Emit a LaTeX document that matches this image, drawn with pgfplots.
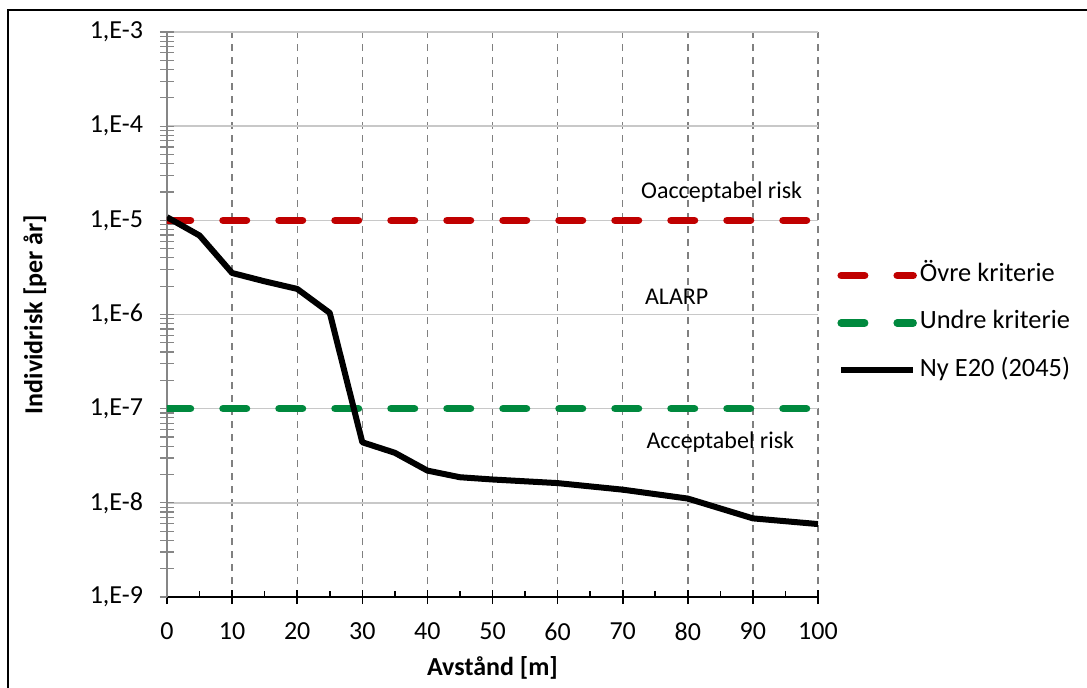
\documentclass[border=0pt]{standalone}
\usepackage{fontspec}
\setmainfont{Carlito}
\usepackage{pgfplots}
\usepackage{pgfplotstable}
\pgfplotsset{compat=1.18}
\definecolor{ovre}{RGB}{192,0,0}
\definecolor{undre}{RGB}{0,137,62}
\definecolor{gridx}{RGB}{128,128,128}
\definecolor{gridy}{RGB}{200,200,200}
\definecolor{yaxis}{RGB}{134,134,134}

% Ny E20 (2045), individrisk per år
\pgfplotstableread{
x    y
0    1.08e-5
5    6.9e-6
10   2.76e-6
15   2.25e-6
20   1.87e-6
25   1.04e-6
30   4.4e-8
35   3.4e-8
40   2.2e-8
45   1.87e-8
50   1.77e-8
60   1.62e-8
70   1.38e-8
80   1.11e-8
90   6.84e-9
100  5.95e-9
}\nyetable

\begin{document}
\begin{tikzpicture}
\useasboundingbox (0,0) rectangle (543.5pt,344pt);
\draw[line width=1pt] (4pt,-10pt) -- (4pt,339pt) -- (560pt,339pt);
\begin{axis}[
  at={(83.5pt,45.5pt)}, anchor=south west,
  scale only axis,
  width=325.5pt, height=282.5pt,
  xmin=0, xmax=100,
  ymode=log, ymin=1e-9, ymax=1e-3,
  xtick={0,10,...,100},
  ytick={1e-9,1e-8,1e-7,1e-6,1e-5,1e-4,1e-3},
  yticklabels={{1,E-9},{1,E-8},{1,E-7},{1,E-6},{1,E-5},{1,E-4},{1,E-3}},
  /pgf/number format/assume math mode=true,
  tick label style={font=\fontsize{13}{15}\selectfont, text=black},
  xticklabel style={yshift=-6pt},
  yticklabel style={xshift=-5pt},
  axis x line*=bottom, axis y line*=left,
  x axis line style={-, black, line width=0.8pt},
  y axis line style={-, yaxis, line width=0.8pt},
  tick align=center,
  major tick length=7pt, minor tick length=6.5pt,
  x tick style={black, line width=0.8pt},
  y tick style={yaxis, line width=0.6pt},
  extra x ticks={5,15,...,95},
  extra x tick labels={},
  extra x tick style={major tick length=3pt, tick align=inside, grid=none},
  xmajorgrids, ymajorgrids,
  x grid style={gridx, line width=0.7pt, dash pattern=on 3.5pt off 3pt},
  y grid style={gridy, line width=0.8pt},
  xlabel={Avstånd [m]},
  ylabel={Individrisk [per år]},
  label style={font=\bfseries\fontsize{13}{15}\selectfont},
  xlabel style={at={(axis description cs:0.5,-0.1257)}, anchor=center},
  ylabel style={at={(axis description cs:-0.2028,0.5)}, anchor=center},
  legend style={draw=none, fill=none, at={(1.02,0.485)}, anchor=west,
    font=\fontsize{13.2}{15}\selectfont, row sep=8.75pt,
    nodes={inner sep=1.5pt, text height=9pt, text depth=3pt}},
  legend cell align=left,
  legend image code/.code={\draw[#1] (0pt,0pt) -- (36pt,0pt);},
]
\addplot[ovre, line width=3.75pt, line cap=round, dash pattern=on 11.75pt off 16.25pt]
  coordinates {(0,1e-5) (100,1e-5)};
\addlegendentry{Övre kriterie}
\addplot[undre, line width=3.75pt, line cap=round, dash pattern=on 11.75pt off 16.25pt]
  coordinates {(0,1e-7) (100,1e-7)};
\addlegendentry{Undre kriterie}
\addplot[black, line width=3pt, line join=round] table[x=x, y=y] {\nyetable};
\addlegendentry{Ny E20 (2045)}
\node[font=\fontsize{12}{14}\selectfont] at (axis cs:85.2,2e-5) {Oacceptabel risk};
\node[font=\fontsize{12}{14}\selectfont] at (axis cs:78.3,1.55e-6) {ALARP};
\node[font=\fontsize{12}{14}\selectfont] at (axis cs:85,4.4e-8) {Acceptabel risk};
\end{axis}
\end{tikzpicture}
\end{document}
